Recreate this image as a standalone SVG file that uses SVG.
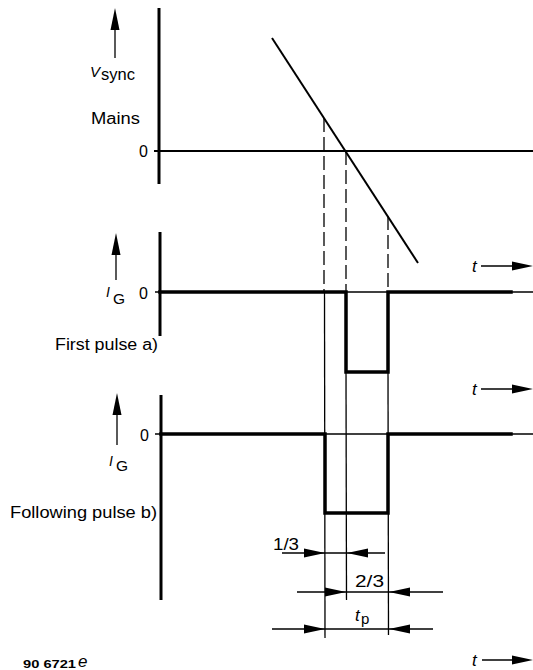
<svg xmlns="http://www.w3.org/2000/svg" xmlns:xlink="http://www.w3.org/1999/xlink" width="533" height="670" viewBox="0 0 533 670">
<style>
  text { font-family: "Liberation Sans", Arial, sans-serif; fill: #000; }
  .lbl { font-size: 16px; }
  .it { font-style: italic; }
  .axis { stroke: #000; stroke-width: 3; fill: none; }
  .sig { stroke: #000; stroke-width: 3.5; fill: none; stroke-linejoin: miter; stroke-linecap: square; }
  .thin { stroke: #000; stroke-width: 1.3; fill: none; }
  .mid { stroke: #000; stroke-width: 2; fill: none; }
  .dash { stroke: #000; stroke-width: 1.3; fill: none; stroke-dasharray: 14 5; }
  .head { fill: #000; stroke: none; }
</style>
<defs>
  <path id="hR" class="head" d="M0,0 L-21,-4.5 L-21,4.5 Z"/>
  <path id="hL" class="head" d="M0,0 L21,-4.5 L21,4.5 Z"/>
  <path id="hU" class="head" d="M0,0 L-4.5,22 L4.5,22 Z"/>
</defs>

<g id="chart-vsync">
  <line class="axis" x1="159" y1="8" x2="159" y2="184"/>
  <line class="mid" x1="154" y1="151" x2="533" y2="151"/>
  <line class="mid" x1="272" y1="38" x2="418" y2="263"/>
  <line class="thin" x1="115" y1="20" x2="115" y2="58"/>
  <use xlink:href="#hU" x="115" y="8"/>
  <text class="it" x="90" y="77" font-size="15">V</text>
  <text x="101" y="79.5" font-size="16.5">sync</text>
  <text class="lbl" x="91" y="124" textLength="49" lengthAdjust="spacingAndGlyphs" font-size="16.5">Mains</text>
  <text class="lbl" x="139" y="157" font-size="14">0</text>
</g>

<g id="chart-first-pulse">
  <line class="axis" x1="160" y1="232" x2="160" y2="336"/>
  <line class="thin" x1="155" y1="292" x2="533" y2="292"/>
  <polyline class="sig" points="160,292 346,292 346,372 388,372 388,292 511,292"/>
  <line class="thin" x1="116" y1="245" x2="116" y2="280"/>
  <use xlink:href="#hU" x="116" y="233"/>
  <text class="it" x="106" y="297" font-size="14">I</text>
  <text x="113" y="304" font-size="15.5">G</text>
  <text class="lbl" x="139" y="299" font-size="14">0</text>
  <text class="lbl" x="55" y="350" textLength="103" lengthAdjust="spacingAndGlyphs">First pulse a)</text>
  <line class="thin" x1="481" y1="266" x2="515" y2="266"/>
  <use xlink:href="#hR" x="533" y="266"/>
  <text class="it" x="472" y="272" font-size="17">t</text>
</g>

<g id="chart-following-pulse">
  <line class="axis" x1="161" y1="395" x2="161" y2="600"/>
  <line class="thin" x1="155" y1="434" x2="533" y2="434"/>
  <polyline class="sig" points="161,434 325,434 325,513 388,513 388,434 511,434"/>
  <line class="thin" x1="117" y1="405" x2="117" y2="445"/>
  <use xlink:href="#hU" x="117" y="393"/>
  <text class="it" x="109" y="466" font-size="14">I</text>
  <text x="116" y="471" font-size="15.5">G</text>
  <text class="lbl" x="140" y="441" font-size="14">0</text>
  <text class="lbl" x="10" y="518" textLength="147" lengthAdjust="spacingAndGlyphs">Following pulse b)</text>
  <line class="thin" x1="481" y1="389" x2="515" y2="389"/>
  <use xlink:href="#hR" x="533" y="389"/>
  <text class="it" x="472" y="395" font-size="17">t</text>
</g>

<g id="connectors">
  <line class="dash" x1="324" y1="118" x2="324" y2="292"/>
  <line class="dash" x1="346" y1="151" x2="346" y2="292"/>
  <line class="dash" x1="388" y1="216" x2="388" y2="292"/>
  <line class="thin" x1="324.5" y1="292" x2="325" y2="638"/>
  <line class="thin" x1="346" y1="372" x2="346.5" y2="600"/>
  <line class="thin" x1="388" y1="372" x2="388.5" y2="635"/>
</g>

<g id="dimensions">
  <line class="thin" x1="282" y1="553" x2="385" y2="553"/>
  <use xlink:href="#hR" x="325" y="553"/>
  <use xlink:href="#hL" x="347" y="553"/>
  <text class="lbl" x="273" y="550" textLength="26" lengthAdjust="spacingAndGlyphs">1/3</text>

  <line class="thin" x1="297" y1="592" x2="443" y2="592"/>
  <use xlink:href="#hR" x="346" y="592"/>
  <use xlink:href="#hL" x="389" y="592"/>
  <text class="lbl" x="355" y="587" textLength="29" lengthAdjust="spacingAndGlyphs">2/3</text>

  <line class="thin" x1="272" y1="629" x2="433" y2="629"/>
  <use xlink:href="#hR" x="325" y="629"/>
  <use xlink:href="#hL" x="389" y="629"/>
  <text class="it" x="355" y="621" font-size="17">t</text>
  <text x="361" y="624" font-size="15">p</text>
</g>

<g id="footer">
  <line class="thin" x1="482" y1="660" x2="515" y2="660"/>
  <use xlink:href="#hR" x="533" y="660"/>
  <text class="it" x="472" y="666" font-size="17">t</text>
  <text x="23" y="668" font-size="11" font-weight="bold" textLength="53" lengthAdjust="spacingAndGlyphs">90 6721</text>
  <text class="it" x="78" y="667" font-size="17">e</text>
</g>
</svg>
